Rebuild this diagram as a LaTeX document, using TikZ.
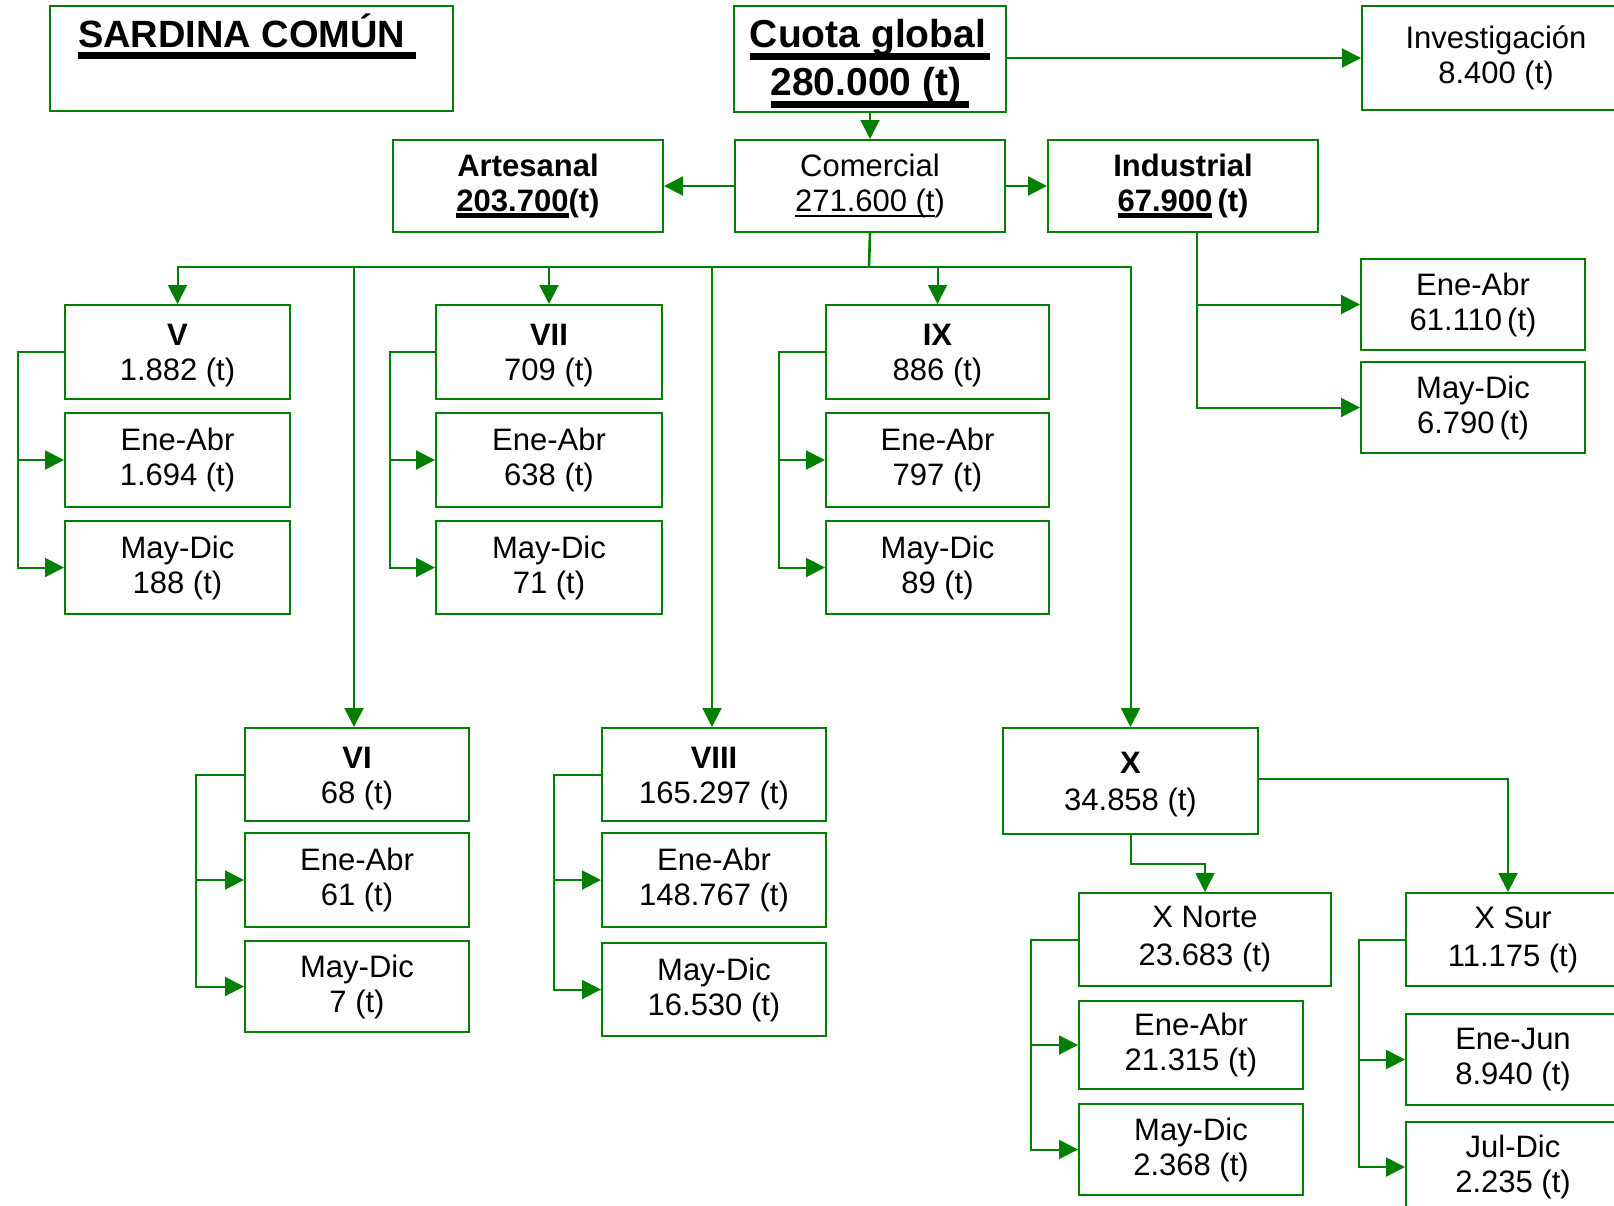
\documentclass[tikz,border=0pt]{standalone}
\usepackage{fontspec}
\setmainfont{Liberation Sans}
\usetikzlibrary{arrows.meta}
\definecolor{lg}{RGB}{0,128,0}
\newsavebox\ulbox
\newcommand\ulthick[3]{\sbox\ulbox{#1}\rlap{\rule[-#2]{\wd\ulbox}{#3}}\usebox\ulbox}
\newcommand\hd[1]{\rule{0pt}{29pt}\textbf{#1}}
\newcommand\bx[7][]{\node[box,minimum width={(#5-#3)*1pt},minimum height={(#6-#4)*1pt},#1] (#2) at ({(#3+#5)/2},{(#4+#6)/2}) {#7};}
\begin{document}
\begin{tikzpicture}[x=1pt,y=-1pt,
  box/.style={draw=lg, line width=2pt, rectangle, inner sep=0pt, align=center, font=\fontsize{31}{35}\selectfont},
  conn/.style={draw=lg, line width=2pt},
  arr/.style={conn, -{Triangle[length=19pt,width=19pt]}},
  bus/.style={draw=lg, line width=2.6pt}]
\useasboundingbox (0,0) rectangle (1614,1205);
\clip (0,0) rectangle (1614,1205);
% top row
\bx{TB}{50}{6}{453}{111}{}
\node[anchor=base west, inner sep=0pt, font=\fontsize{38}{44}\selectfont\bfseries] (TT) at (78,47) {\ulthick{SARDINA COMÚN\ }{12pt}{7pt}};
\bx[font=\fontsize{39}{48}\selectfont\bfseries]{CG}{734}{6}{1006}{112}{\rule{0pt}{37pt}\ulthick{Cuota global\kern4pt}{12pt}{7pt}\\\ulthick{280.000 (t)\kern8pt}{12pt}{7pt}}
\bx{INV}{1362}{6}{1630}{110}{Investigación\\8.400 (t)}
\bx{COM}{735}{140}{1005}{232}{Comercial\\\ulthick{271.600 (t}{5pt}{1.5pt})}
\bx{ART}{393}{140}{663}{232}{\textbf{Artesanal}\\\textbf{\ulthick{203.700}{6pt}{5pt}(t)}}
\bx{IND}{1048}{140}{1318}{232}{\textbf{Industrial}\\\textbf{\ulthick{67.900}{6pt}{5pt}\,(t)}}
\bx{INDEA}{1361}{259}{1585}{350}{Ene-Abr\\61.110\,(t)}
\bx{INDMD}{1361}{362}{1585}{453}{May-Dic\\6.790\,(t)}
% column V
\bx{V}{65}{305}{290}{399}{\hd{V}\\1.882 (t)}
\bx{VEA}{65}{413}{290}{507}{Ene-Abr\\1.694 (t)}
\bx{VMD}{65}{521}{290}{614}{May-Dic\\188 (t)}
% column VII
\bx{VII}{436}{305}{662}{399}{\hd{VII}\\709 (t)}
\bx{VIIEA}{436}{413}{662}{507}{Ene-Abr\\638 (t)}
\bx{VIIMD}{436}{521}{662}{614}{May-Dic\\71 (t)}
% column IX
\bx{IX}{826}{305}{1049}{399}{\hd{IX}\\886 (t)}
\bx{IXEA}{826}{413}{1049}{507}{Ene-Abr\\797 (t)}
\bx{IXMD}{826}{521}{1049}{614}{May-Dic\\89 (t)}
% column VI
\bx{VI}{245}{728}{469}{821}{\hd{VI}\\68 (t)}
\bx{VIEA}{245}{833}{469}{927}{Ene-Abr\\61 (t)}
\bx{VIMD}{245}{941}{469}{1032}{May-Dic\\7 (t)}
% column VIII
\bx{VIII}{602}{728}{826}{821}{\hd{VIII}\\165.297 (t)}
\bx{VIIIEA}{602}{833}{826}{927}{Ene-Abr\\148.767 (t)}
\bx{VIIIMD}{602}{943}{826}{1036}{May-Dic\\16.530 (t)}
% column X
\bx{X}{1003}{728}{1258}{834}{\hd{X}\\[2pt]34.858 (t)}
\bx{XN}{1079}{893}{1331}{986}{X Norte\\[3pt]23.683 (t)}
\bx{XNEA}{1079}{1001}{1303}{1089}{Ene-Abr\\21.315 (t)}
\bx{XNMD}{1079}{1104}{1303}{1195}{May-Dic\\2.368 (t)}
\bx{XS}{1406}{893}{1620}{986}{X Sur\\[3pt]11.175 (t)}
\bx{XSEJ}{1406}{1014}{1620}{1105}{Ene-Jun\\8.940 (t)}
\bx{XSJD}{1406}{1122}{1620}{1212}{Jul-Dic\\2.235 (t)}
% connectors top
\draw[arr] (CG.east |- INV.west) -- (INV.west);
\draw[arr] (CG.south) -- (COM.north);
\draw[arr] (COM.west) -- (ART.east);
\draw[arr] (COM.east) -- (IND.east -| IND.west);
\draw[arr] ([xshift=14pt]IND.south) |- (INDEA.west);
\draw[arr] ([xshift=14pt]IND.south) |- (INDMD.west);
% bus
\coordinate (hub) at (869,267);
\draw[bus] (COM.south) -- (hub);
\draw[arr] (hub) -| (V.north);
\draw[arr] (hub) -| (VII.north);
\draw[arr] (hub) -| (IX.north);
\draw[arr] (hub) -| ([xshift=-3pt]VI.north);
\draw[arr] (hub) -| ([xshift=-2pt]VIII.north);
\draw[arr] (hub) -| (X.north);
\draw[bus] (hub) -- (V.north |- hub);
% brackets
\foreach \p/\d in {V/46,VII/45,IX/46,VI/48,VIII/47}{
  \draw[arr] (\p.west) -- ++(-\d,0) |- (\p EA.west);
  \draw[arr] (\p.west) -- ++(-\d,0) |- (\p MD.west);
}
\draw[arr] (XN.west) -- ++(-47,0) |- (XNEA.west);
\draw[arr] (XN.west) -- ++(-47,0) |- (XNMD.west);
\draw[arr] (XS.west) -- ++(-46,0) |- (XSEJ.west);
\draw[arr] (XS.west) -- ++(-46,0) |- (XSJD.west);
% X splits
\draw[arr] (X.south) -- ++(0,29) -| (XN.north);
\draw[arr] ([yshift=2pt]X.east) -| ([xshift=-5pt]XS.north);
\end{tikzpicture}
\end{document}
